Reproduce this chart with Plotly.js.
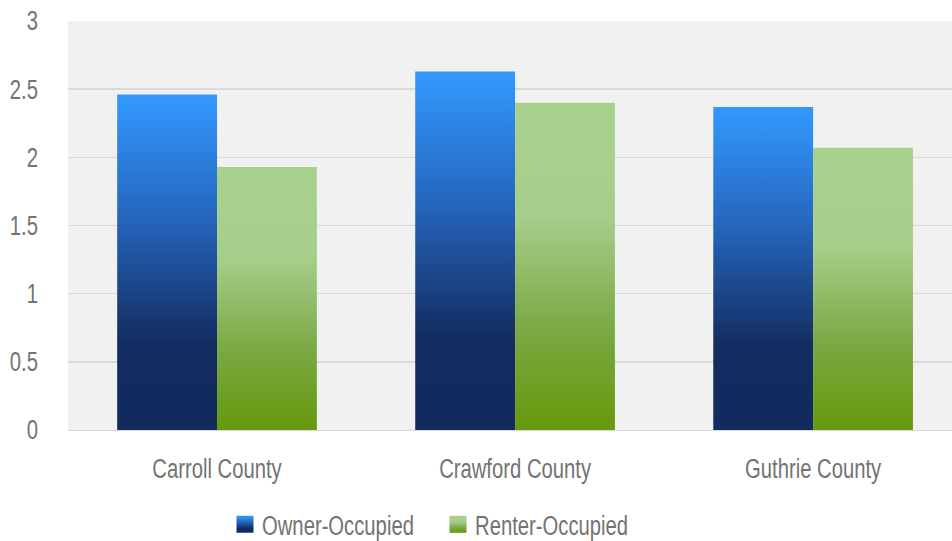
<!DOCTYPE html>
<html>
<head>
<meta charset="utf-8">
<script src="https://cdn.plot.ly/plotly-3.0.1.min.js"></script>
<style>
html,body{margin:0;padding:0;background:#fff;overflow:hidden;}
#chart{width:952px;height:541px;}
</style>
</head>
<body>
<div id="chart"></div>
<script>
var categories = ["Carroll County", "Crawford County", "Guthrie County"];
var ownerOccupied = [2.46, 2.63, 2.37];
var renterOccupied = [1.93, 2.40, 2.07];
var seriesNames = ["Owner-Occupied", "Renter-Occupied"];
var yTickVals = [0, 0.5, 1, 1.5, 2, 2.5, 3];
var yTickText = ["0", "0.5", "1", "1.5", "2", "2.5", "3"];

var FONT = '"Liberation Sans", Arial, sans-serif';
var TXT = '#737373';
var CONDENSE = 0.75;

var traces = [
  {type: 'bar', name: seriesNames[0], x: categories, y: ownerOccupied,
   marker: {color: '#2a6cc4', line: {width: 0}}, hoverinfo: 'none'},
  {type: 'bar', name: seriesNames[1], x: categories, y: renterOccupied,
   marker: {color: '#8fbb5e', line: {width: 0}}, hoverinfo: 'none'}
];

var layout = {
  width: 952, height: 541,
  margin: {l: 68, r: 0, t: 21, b: 111},
  paper_bgcolor: '#ffffff',
  plot_bgcolor: '#f1f1f1',
  barmode: 'group',
  bargap: 0.33,
  bargroupgap: 0,
  showlegend: true,
  font: {family: FONT, color: TXT, size: 27},
  xaxis: {
    type: 'category',
    range: [-0.5, 2.466],
    showgrid: false,
    showline: true, linecolor: '#d9d9d9', linewidth: 1,
    ticks: '', ticklabelstandoff: 15,
    tickfont: {family: FONT, color: TXT, size: 27},
    fixedrange: true
  },
  yaxis: {
    range: [0, 3],
    tickvals: yTickVals, ticktext: yTickText,
    showgrid: true, gridcolor: '#d9d9d9', gridwidth: 1.4,
    zeroline: false, showline: false,
    ticks: '', ticklabelstandoff: 29,
    tickfont: {family: FONT, color: TXT, size: 27},
    fixedrange: true
  },
  legend: {
    orientation: 'h',
    xref: 'container', yref: 'container',
    x: 0.2332, xanchor: 'left',
    y: 0.03, yanchor: 'middle',
    entrywidth: 168, entrywidthmode: 'pixels',
    font: {family: FONT, color: TXT, size: 27},
    bgcolor: 'rgba(0,0,0,0)',
    traceorder: 'normal'
  }
};

function addGradients(gd) {
  var svg = gd.querySelector('svg.main-svg');
  if (!svg) return;
  var defs = svg.querySelector('defs');
  if (!defs) { defs = document.createElementNS('http://www.w3.org/2000/svg', 'defs'); svg.insertBefore(defs, svg.firstChild); }
  function grad(id, stops) {
    if (svg.querySelector('#' + id)) return;
    var g = document.createElementNS('http://www.w3.org/2000/svg', 'linearGradient');
    g.setAttribute('id', id);
    g.setAttribute('x1', '0'); g.setAttribute('y1', '0');
    g.setAttribute('x2', '0'); g.setAttribute('y2', '1');
    stops.forEach(function (s) {
      var st = document.createElementNS('http://www.w3.org/2000/svg', 'stop');
      st.setAttribute('offset', s[0]);
      st.setAttribute('stop-color', s[1]);
      g.appendChild(st);
    });
    defs.appendChild(g);
  }
  grad('gradBlue', [[0, '#3399ff'], [0.35, '#2668c0'], [0.75, '#132b5e'], [1, '#122b5e']]);
  grad('gradGreen', [[0, '#a9d18e'], [0.35, '#a7cd8a'], [0.7, '#7aa842'], [1, '#66990b']]);
  var ids = ['gradBlue', 'gradGreen'];
  gd.querySelectorAll('.barlayer .trace').forEach(function (t, i) {
    t.querySelectorAll('path').forEach(function (p) { p.style.fill = 'url(#' + ids[i % 2] + ')'; });
  });
  gd.querySelectorAll('.legend .traces').forEach(function (t, i) {
    t.querySelectorAll('.legendpoints path').forEach(function (p) {
      p.style.fill = 'url(#' + ids[i % 2] + ')';
      p.setAttribute('d', 'M8.5,8.5H-8.5V-8.5H8.5Z');
      p.setAttribute('transform', 'translate(23,0)');
    });
  });
  // condensed look (the original uses a condensed face)
  gd.querySelectorAll('.xtick text, .ytick text, .legendtext').forEach(function (t) {
    if (!t.getAttribute('data-orig')) t.setAttribute('data-orig', t.getComputedTextLength());
    var L = parseFloat(t.getAttribute('data-orig'));
    t.setAttribute('textLength', (L * CONDENSE).toFixed(1));
    t.setAttribute('lengthAdjust', 'spacingAndGlyphs');
  });
}

var gd = document.getElementById('chart');
Plotly.newPlot(gd, traces, layout, {displayModeBar: false, staticPlot: true}).then(function () {
  addGradients(gd);
  gd.on('plotly_afterplot', function () { addGradients(gd); });
});
</script>
</body>
</html>
